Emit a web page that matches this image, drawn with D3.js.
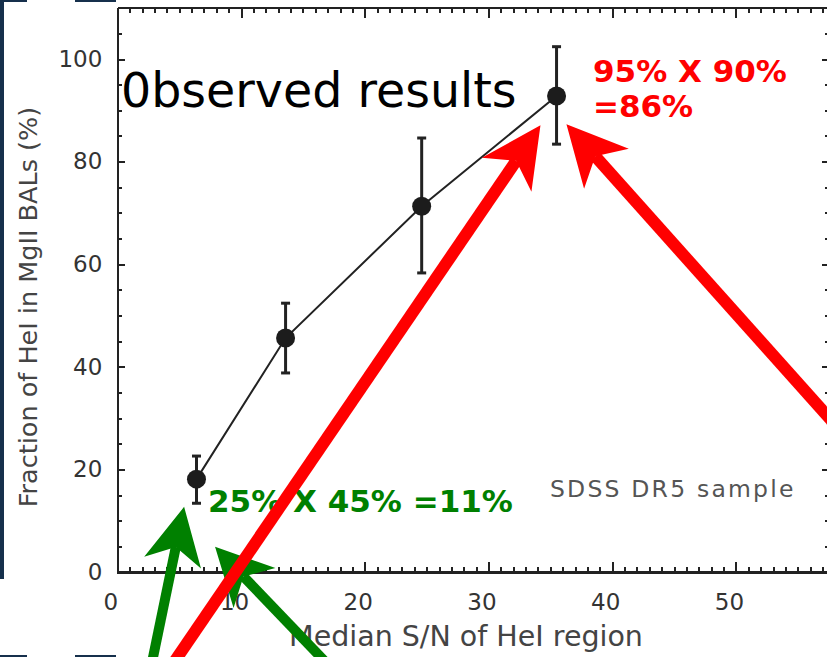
<!DOCTYPE html>
<html>
<head>
<meta charset="utf-8">
<script src="https://d3js.org/d3.v7.min.js"></script>
<style>
body { margin: 0; background: #fff; }
.axis path, .axis line { fill: none; stroke: #222; shape-rendering: crispEdges; }
.axis path { stroke-width: 2.5; }
.axis line { stroke-width: 2; }
.axis text { font-family: "DejaVu Sans", sans-serif; fill: #333; }
</style>
</head>
<body>
<div id="chart"></div>
<script>
var snr    = [6.4, 13.6, 24.6, 35.5];
var frac   = [18.1, 45.6, 71.3, 92.8];
var errHi  = [22.6, 52.4, 84.6, 102.4];
var errLo  = [13.4, 38.8, 58.3, 83.4];

var xTicks = [0, 10, 20, 30, 40, 50];
var yTicks = [0, 20, 40, 60, 80, 100];

// annotation arrows, in data units [x0, y0, x1, y1]
var redArrows   = [[3.9, -20, 34.2, 87.1], [58.4, 27.7, 36.3, 87.3]];
var greenArrows = [[2.6, -20, 5.4, 12.7], [17.8, -20, 7.9, 4.9]];

var W = 827, H = 657;
var svg = d3.select("#chart").append("svg")
    .attr("width", W).attr("height", H);

// bits of the dark slide background around the picture
var bg = svg.append("g").attr("fill", "#16304c");
bg.append("rect").attr("x", 0).attr("y", 0).attr("width", 4).attr("height", 579);
bg.append("rect").attr("x", 0).attr("y", 0).attr("width", 27).attr("height", 2);
bg.append("rect").attr("x", 75).attr("y", 0).attr("width", 41).attr("height", 2);
bg.append("rect").attr("x", 0).attr("y", 655).attr("width", 27).attr("height", 2);
bg.append("rect").attr("x", 75).attr("y", 655).attr("width", 41).attr("height", 2);

var x = d3.scaleLinear().domain([0, 57.6]).range([117.3, 830]);
var y = d3.scaleLinear().domain([0, 110]).range([572, 7.7]);

// minor ticks
svg.append("g").attr("class", "axis")
    .attr("transform", "translate(0,572)")
    .call(d3.axisBottom(x).tickValues(d3.range(0, 58, 1)).tickSize(-5).tickSizeOuter(0).tickFormat(""));
svg.append("g").attr("class", "axis")
    .attr("transform", "translate(0,7.7)")
    .call(d3.axisTop(x).tickValues(d3.range(0, 58, 1)).tickSize(-5).tickSizeOuter(0).tickFormat(""));
svg.append("g").attr("class", "axis")
    .attr("transform", "translate(117.3,0)")
    .call(d3.axisLeft(y).tickValues(d3.range(0, 110, 5)).tickSize(-5).tickSizeOuter(0).tickFormat(""));
svg.append("g").attr("class", "axis")
    .attr("transform", "translate(830,0)")
    .call(d3.axisRight(y).tickValues(d3.range(0, 110, 5)).tickSize(-5).tickSizeOuter(0).tickFormat(""));

// major ticks + labels
var xAxis = svg.append("g").attr("class", "axis")
    .attr("transform", "translate(0,572)")
    .call(d3.axisBottom(x).tickValues(xTicks).tickSize(-10).tickSizeOuter(0));
xAxis.selectAll("text")
    .attr("y", 38).attr("dy", 0).attr("dx", -7)
    .style("font-size", "23px");

svg.append("g").attr("class", "axis")
    .attr("transform", "translate(0,7.7)")
    .call(d3.axisTop(x).tickValues(xTicks).tickSize(-10).tickSizeOuter(0).tickFormat(""));

var yAxis = svg.append("g").attr("class", "axis")
    .attr("transform", "translate(117.3,0)")
    .call(d3.axisLeft(y).tickValues(yTicks).tickSize(-8).tickSizeOuter(0));
yAxis.selectAll("text")
    .attr("x", -15)
    .style("font-size", "23px");

svg.append("g").attr("class", "axis")
    .attr("transform", "translate(830,0)")
    .call(d3.axisRight(y).tickValues(yTicks).tickSize(-8).tickSizeOuter(0).tickFormat(""));

// axis titles
svg.append("text")
    .attr("transform", "translate(37,307) rotate(-90)")
    .style("text-anchor", "middle")
    .style("font-family", "DejaVu Sans")
    .style("font-size", "25.5px")
    .style("fill", "#444")
    .text("Fraction of HeI in MgII BALs (%)");

svg.append("text")
    .attr("x", 466).attr("y", 646)
    .style("text-anchor", "middle")
    .style("font-family", "DejaVu Sans")
    .style("font-size", "28.5px")
    .style("fill", "#444")
    .text("Median S/N of HeI region");

var pts = snr.map(function(s, i) {
    return {s: s, f: frac[i], hi: errHi[i], lo: errLo[i]};
});

// connecting line
svg.append("path")
    .datum(pts)
    .attr("fill", "none")
    .attr("stroke", "#222")
    .attr("stroke-width", 2)
    .attr("d", d3.line().x(function(d) { return x(d.s); }).y(function(d) { return y(d.f); }));

// error bars
var eb = svg.append("g").attr("stroke", "#222").attr("stroke-width", 3);
eb.selectAll(".bar").data(pts).enter().append("line")
    .attr("x1", function(d) { return x(d.s); })
    .attr("x2", function(d) { return x(d.s); })
    .attr("y1", function(d) { return y(d.hi); })
    .attr("y2", function(d) { return y(d.lo); });
eb.selectAll(".capHi").data(pts).enter().append("line")
    .attr("x1", function(d) { return x(d.s) - 4.5; })
    .attr("x2", function(d) { return x(d.s) + 4.5; })
    .attr("y1", function(d) { return y(d.hi); })
    .attr("y2", function(d) { return y(d.hi); });
eb.selectAll(".capLo").data(pts).enter().append("line")
    .attr("x1", function(d) { return x(d.s) - 4.5; })
    .attr("x2", function(d) { return x(d.s) + 4.5; })
    .attr("y1", function(d) { return y(d.lo); })
    .attr("y2", function(d) { return y(d.lo); });

svg.append("g").selectAll("circle").data(pts).enter().append("circle")
    .attr("cx", function(d) { return x(d.s); })
    .attr("cy", function(d) { return y(d.f); })
    .attr("r", 9.5)
    .style("fill", "#1c1c1c");

// texts
svg.append("text")
    .attr("x", 121).attr("y", 107)
    .style("font-family", "DejaVu Sans")
    .style("font-size", "47.5px")
    .style("fill", "#000")
    .text("0bserved results");

svg.append("text")
    .attr("x", 550).attr("y", 497)
    .style("font-family", "DejaVu Sans")
    .style("font-size", "23.5px")
    .style("letter-spacing", "2.2px")
    .style("fill", "#555")
    .text("SDSS DR5 sample");

var red = svg.append("g")
    .style("font-family", "DejaVu Sans")
    .style("font-weight", "bold")
    .style("font-size", "31px")
    .style("fill", "#ff0000");
red.append("text").attr("x", 593).attr("y", 82).text("95% X 90%");
red.append("text").attr("x", 593).attr("y", 117).text("=86%");

svg.append("text")
    .attr("x", 208).attr("y", 512)
    .style("font-family", "DejaVu Sans")
    .style("font-weight", "bold")
    .style("font-size", "31px")
    .style("fill", "#008000")
    .text("25% X 45% =11%");

// arrows
function drawArrow(a, color, width, L, hw) {
    var x0 = x(a[0]), y0 = y(a[1]), x1 = x(a[2]), y1 = y(a[3]);
    var len = Math.sqrt((x1 - x0) * (x1 - x0) + (y1 - y0) * (y1 - y0));
    var bx = (x0 - x1) / len, by = (y0 - y1) / len;   // back direction
    var px = -by, py = bx;                            // perpendicular
    var nx = x1 + bx * L * 0.72, ny = y1 + by * L * 0.72;
    svg.append("line")
        .attr("x1", x0).attr("y1", y0)
        .attr("x2", nx).attr("y2", ny)
        .attr("stroke", color).attr("stroke-width", width);
    var head = [
        [x1, y1],
        [x1 + bx * L + px * hw, y1 + by * L + py * hw],
        [nx, ny],
        [x1 + bx * L - px * hw, y1 + by * L - py * hw]
    ];
    svg.append("path")
        .attr("d", "M" + head.join("L") + "Z")
        .attr("fill", color);
}
greenArrows.forEach(function(a) { drawArrow(a, "#008000", 10, 57, 29); });
redArrows.forEach(function(a) { drawArrow(a, "#ff0000", 12, 60, 30); });
</script>
</body>
</html>
